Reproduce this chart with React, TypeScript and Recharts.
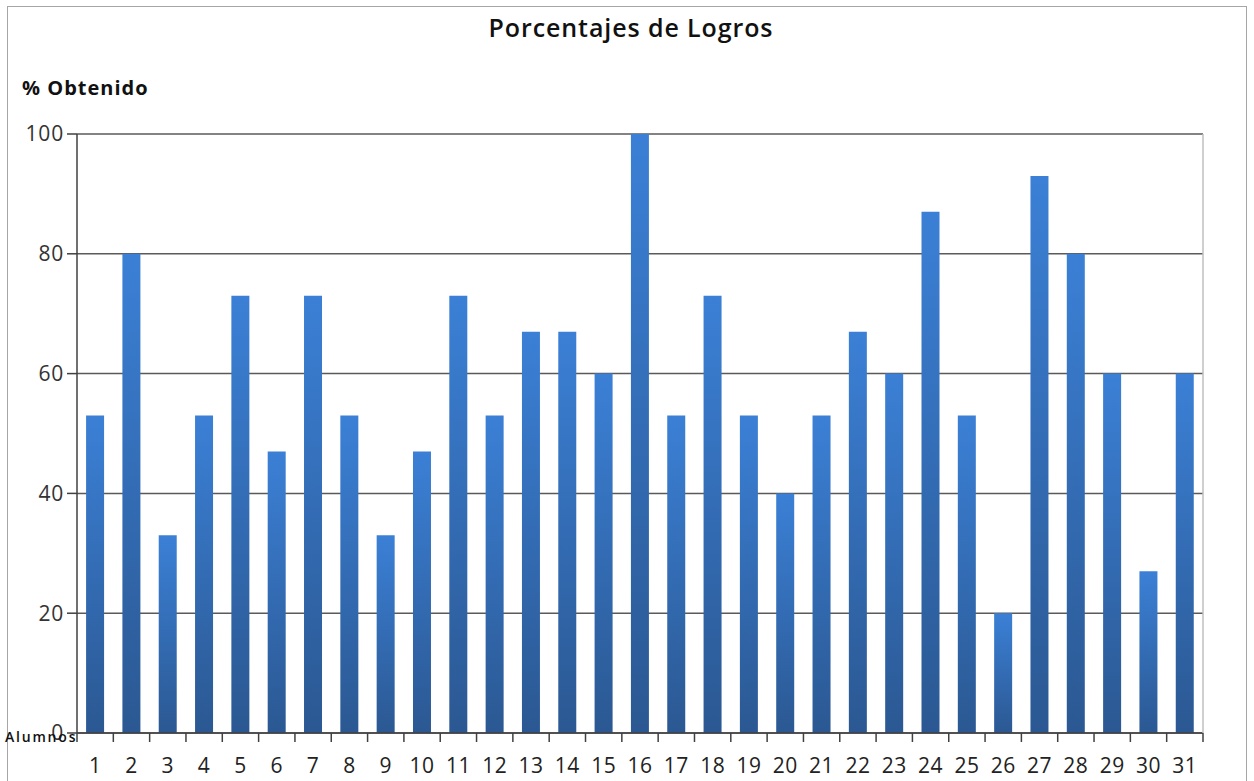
import React from 'react';
import {
  BarChart,
  Bar,
  XAxis,
  YAxis,
  CartesianGrid,
} from 'recharts';

const alumnos = [
  '1', '2', '3', '4', '5', '6', '7', '8', '9', '10',
  '11', '12', '13', '14', '15', '16', '17', '18', '19', '20',
  '21', '22', '23', '24', '25', '26', '27', '28', '29', '30', '31',
];
const porcentajes = [
  53, 80, 33, 53, 73, 47, 73, 53, 33, 47,
  73, 53, 67, 67, 60, 100, 53, 73, 53, 40,
  53, 67, 60, 87, 53, 20, 93, 80, 60, 27, 60,
];
const yTicks = [0, 20, 40, 60, 80, 100];

const data = alumnos.map((a, i) => ({ alumno: a, logro: porcentajes[i] }));

const W = 1254;
const H = 781;
const PLOT_LEFT = 77;
const PLOT_RIGHT = 51;
const PLOT_TOP = 134;
const X_AXIS_H = 48;
const band = (W - PLOT_LEFT - PLOT_RIGHT) / alumnos.length;
const font = '"Open Sans", sans-serif';

const XTick = (props: any) => {
  const { x, y, payload, index } = props;
  return (
    <g>
      <line x1={x + band / 2} x2={x + band / 2} y1={y} y2={y + 9} stroke="#404040" strokeWidth={1.5} />
      {index === 0 && (
        <line x1={x - band / 2} x2={x - band / 2} y1={y} y2={y + 9} stroke="#404040" strokeWidth={1.5} />
      )}
      <text x={x} y={y + 40} textAnchor="middle" fontFamily={font} fontSize={21} fill="#222" letterSpacing={0.5}>
        {payload.value}
      </text>
    </g>
  );
};

const App = () => {
  return (
    <div style={{ position: 'absolute', left: 0, top: 0, width: W, height: H, background: '#fff' }}>
      <div
        style={{
          position: 'absolute',
          left: 7,
          top: 6,
          width: 1240,
          height: H,
          border: '1.5px solid #a6a6a6',
          boxSizing: 'border-box',
        }}
      />
      <div
        style={{
          position: 'absolute',
          top: 10,
          width: W,
          paddingLeft: 8,
          boxSizing: 'border-box',
          textAlign: 'center',
          fontFamily: font,
          fontSize: 25,
          fontWeight: 600,
          letterSpacing: 0.9,
          color: '#111',
        }}
      >
        Porcentajes de Logros
      </div>
      <div
        style={{
          position: 'absolute',
          left: 22,
          top: 74,
          fontFamily: font,
          fontSize: 20,
          fontWeight: 700,
          letterSpacing: 1,
          color: '#111',
        }}
      >
        % Obtenido
      </div>
      <div style={{ position: 'absolute', left: 0, top: 0 }}>
        <BarChart
          width={W}
          height={H}
          data={data}
          margin={{ top: PLOT_TOP, right: PLOT_RIGHT - 1, bottom: 0, left: 0 }}
          barCategoryGap="25%"
        >
          <defs>
            <linearGradient id="barFill" x1="0" y1="0" x2="0" y2="1">
              <stop offset="0%" stopColor="#3b80d6" />
              <stop offset="100%" stopColor="#2b5892" />
            </linearGradient>
          </defs>
          <CartesianGrid yAxisId="left" vertical={false} stroke="#5a5a5a" strokeWidth={1.5} />
          <XAxis
            dataKey="alumno"
            height={X_AXIS_H}
            tickSize={0}
            tickMargin={0}
            axisLine={{ stroke: '#404040', strokeWidth: 1.5 }}
            tick={<XTick />}
            interval={0}
          />
          <YAxis
            yAxisId="left"
            width={PLOT_LEFT}
            domain={[0, 100]}
            ticks={yTicks}
            tickSize={10}
            tickMargin={3}
            axisLine={{ stroke: '#404040', strokeWidth: 1.5 }}
            tickLine={{ stroke: '#404040', strokeWidth: 1.5 }}
            tick={{ fontFamily: font, fontSize: 21, fill: '#333', letterSpacing: 0.8 }}
          />
          <YAxis
            yAxisId="right"
            orientation="right"
            width={1}
            domain={[0, 100]}
            tick={false}
            tickLine={false}
            axisLine={{ stroke: '#bfbfbf', strokeWidth: 1.5 }}
          />
          <Bar yAxisId="left" dataKey="logro" fill="url(#barFill)" isAnimationActive={false} />
        </BarChart>
      </div>
      <div
        style={{
          position: 'absolute',
          left: 5,
          top: 727,
          fontFamily: font,
          fontSize: 14,
          fontWeight: 600,
          letterSpacing: 1.8,
          color: '#111',
        }}
      >
        Alumnos
      </div>
    </div>
  );
};

export default App;
